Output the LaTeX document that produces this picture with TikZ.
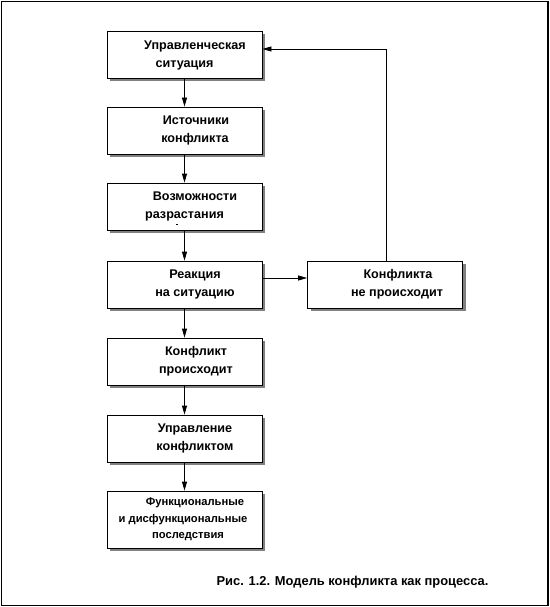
\documentclass[tikz,border=0pt]{standalone}
\usepackage{fontspec}
\setmainfont{Liberation Sans}
\usetikzlibrary{arrows.meta,shadows}
\tikzset{
  box/.style={draw=black, line width=0.8pt, fill=white, minimum width=155pt,
    minimum height=47pt, inner sep=0pt, align=center,
    font=\bfseries\fontsize{12.6}{18}\selectfont,
    drop shadow={shadow xshift=3pt, shadow yshift=-3pt, fill=black!50, opacity=1}},
  arr/.style={-{Triangle[length=9pt,width=5pt]}, line width=0.8pt},
  frame/.style={line width=1.3pt},
}
\begin{document}
\begin{tikzpicture}[x=1pt,y=-1pt]
\useasboundingbox (0,0) rectangle (549,607);
\draw[frame] (1.5,1.5) rectangle (548,605.5);

\node[box] (b1) at (184.5,55) {\hspace*{21pt}Управленческая\\ситуация};
\node[box] (b2) at (184.5,130.5) {\hspace*{23pt}Источники\\\hspace*{21pt}конфликта};
\node[box] (b3) at (184.5,206.5) {\hspace*{21pt}Возможности\\разрастания};
\node[box] (b4) at (184.5,284.5) {\hspace*{21pt}Реакция\\\hspace*{21pt}на ситуацию};
\node[box] (nb) at (385,284.5) {\hspace*{26pt}Конфликта\\\hspace*{24pt}не происходит};
\node[box] (b5) at (184.5,361.5) {\hspace*{23pt}Конфликт\\\hspace*{23pt}происходит};
\node[box] (b6) at (184.5,438.5) {\hspace*{21pt}Управление\\\hspace*{21pt}конфликтом};
\node[box, minimum height=57pt, font=\bfseries\fontsize{11.2}{16.5}\selectfont] (b7) at (184.5,519.5) {\hspace*{21pt}Функциональные\\\hspace*{-3pt}и дисфункциональные\\\hspace*{7pt}последствия};

\fill (176,223.5) rectangle (178,225);

\draw[arr] (b1) -- (b2);
\draw[arr] (b2) -- (b3);
\draw[arr] (b3) -- (b4);
\draw[arr] (b4) -- (b5);
\draw[arr] (b5) -- (b6);
\draw[arr] (b6) -- (b7);
\draw[arr] ([yshift=6.5pt]b4.east) -- ([yshift=6.5pt]nb.west);
\draw[arr] ([xshift=1pt]nb.north) |- ([yshift=6pt]b1.east);

\node[font=\bfseries\fontsize{12.9}{14}\selectfont] (cap) at (352.5,582) {Рис. 1.2. Модель конфликта как процесса.};
\end{tikzpicture}
\end{document}
